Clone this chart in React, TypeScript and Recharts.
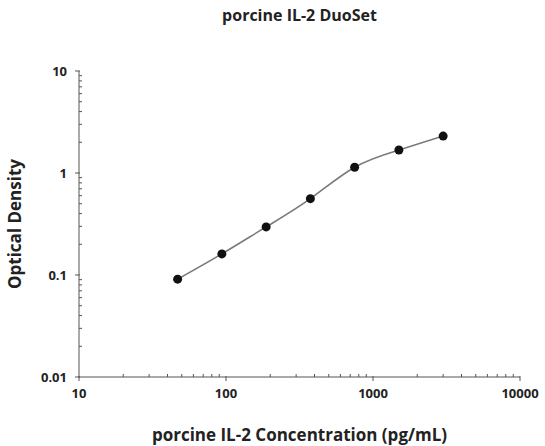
import React from 'react';
import { LineChart, Line, XAxis, YAxis } from 'recharts';

const concentration = [46.875, 93.75, 187.5, 375, 750, 1500, 3000];
const opticalDensity = [0.091, 0.161, 0.296, 0.56, 1.14, 1.68, 2.3];

const xMajorTicks = [10, 100, 1000, 10000];
const xTickLabels = ['10', '100', '1000', '10000'];
const yMajorTicks = [0.01, 0.1, 1, 10];
const yTickLabels = ['0.01', '0.1', '1', '10'];
const minorSteps = [2, 3, 4, 5, 6, 7, 8, 9];

const data = concentration.map((c, i) => ({ conc: c, od: opticalDensity[i] }));

// major decades plus 2..9 minor ticks in between
const withMinor = (majors: number[]) => {
  const out: number[] = [];
  majors.forEach((m, i) => {
    out.push(m);
    if (i < majors.length - 1) minorSteps.forEach((s) => out.push(+(m * s).toPrecision(6)));
  });
  return out;
};

const xTicks = withMinor(xMajorTicks);
const yTicks = withMinor(yMajorTicks);

const FONT = '"Open Sans", sans-serif';
const AXIS = '#555';

const XTick = (props: any) => {
  const { x, y, payload } = props;
  const idx = xMajorTicks.indexOf(payload.value);
  if (idx < 0) return <line x1={x} x2={x} y1={y} y2={y - 3} stroke={AXIS} strokeWidth={1} />;
  return (
    <g>
      <line x1={x} x2={x} y1={y - 1} y2={y + 4} stroke={AXIS} strokeWidth={1} />
      <text x={x} y={y + 21} textAnchor="middle" fontFamily={FONT} fontWeight={700} fontSize={13} fill="#222">
        {xTickLabels[idx]}
      </text>
    </g>
  );
};

const YTick = (props: any) => {
  const { x, y, payload } = props;
  const idx = yMajorTicks.indexOf(payload.value);
  if (idx < 0) return <line x1={x} x2={x + 3} y1={y} y2={y} stroke={AXIS} strokeWidth={1} />;
  return (
    <g>
      <line x1={x - 4} x2={x + 1} y1={y} y2={y} stroke={AXIS} strokeWidth={1} />
      <text x={x - 12} y={y + 4.5} textAnchor="end" fontFamily={FONT} fontWeight={700} fontSize={13} fill="#222">
        {yTickLabels[idx]}
      </text>
    </g>
  );
};

export default function App() {
  return (
    <div style={{ position: 'absolute', left: 0, top: 0, width: 545, height: 446, background: '#fff' }}>
      <div
        style={{
          position: 'absolute',
          top: 4,
          left: 79,
          width: 441,
          textAlign: 'center',
          fontFamily: FONT,
          fontWeight: 700,
          fontSize: 16,
          color: '#222',
        }}
      >
        porcine IL-2 DuoSet
      </div>
      <LineChart width={545} height={446} data={data} margin={{ top: 71, right: 25, left: 0, bottom: 0 }}>
        <XAxis
          dataKey="conc"
          type="number"
          scale="log"
          domain={[10, 10000]}
          ticks={xTicks}
          interval={0}
          tickSize={0}
          tickMargin={0}
          tickLine={false}
          tick={<XTick />}
          height={69}
          stroke={AXIS}
          label={{
            value: 'porcine IL-2 Concentration (pg/mL)',
            position: 'insideBottom',
            offset: 5,
            style: { fontFamily: FONT, fontWeight: 700, fontSize: 17, fill: '#222' },
          }}
        />
        <YAxis
          dataKey="od"
          type="number"
          scale="log"
          domain={[0.01, 10]}
          ticks={yTicks}
          interval={0}
          tickSize={0}
          tickMargin={0}
          tickLine={false}
          tick={<YTick />}
          width={79}
          stroke={AXIS}
          label={{
            value: 'Optical Density',
            angle: -90,
            position: 'insideLeft',
            offset: 15,
            style: { textAnchor: 'middle', fontFamily: FONT, fontWeight: 700, fontSize: 17, fill: '#222' },
          }}
        />
        <Line
          type="natural"
          dataKey="od"
          stroke="#7a7a7a"
          strokeWidth={1.6}
          dot={{ r: 4.5, fill: '#111', stroke: '#111', strokeWidth: 0 }}
          isAnimationActive={false}
        />
      </LineChart>
    </div>
  );
}
